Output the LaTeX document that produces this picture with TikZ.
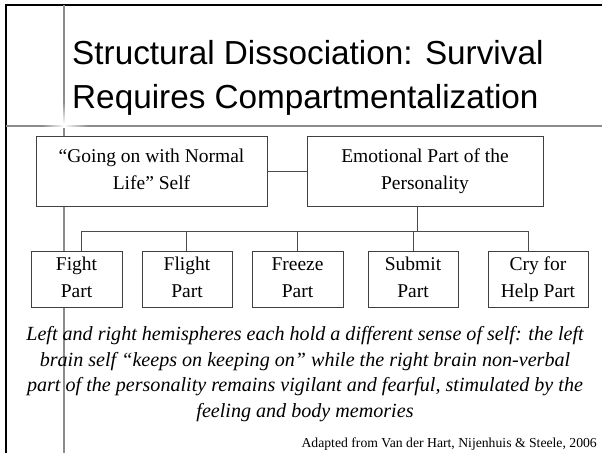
\documentclass[tikz,border=0pt]{standalone}
\usepackage{fontspec}
\setmainfont{Liberation Serif}
\newfontfamily\titlefont{Liberation Sans}
\newcommand\twolines[2]{\strut #1\\#2\strut}
\begin{document}
\begin{tikzpicture}[x=1pt,y=-1pt,
  box/.style={draw=black!75, line width=0.9pt, fill=white, inner sep=0pt, align=center,
    font=\fontsize{19.5}{27}\selectfont},
  bigbox/.style={box, minimum height=70pt},
  smallbox/.style={box, minimum height=56pt},
  conn/.style={draw=black!70, line width=0.9pt},
  deco/.style={draw=black!45, line width=1.8pt},
  titletext/.style={anchor=base west, inner sep=0pt, font=\titlefont\fontsize{33.3}{40}\selectfont}]
\useasboundingbox (0,0) rectangle (602,453);
\fill[white] (0,0) rectangle (602,453);
% slide decoration
\draw[black, line width=2pt] (6,453) -- (6,5) -- (602,5);
\draw[deco] (64,5) -- (64,102);
\shade[top color=black!45, bottom color=white] (63.1,102) rectangle (64.9,124);
\draw[deco] (64,128) -- (64,453);
\draw[deco] (6,126) -- (42,126);
\shade[left color=black!45, right color=white] (42,125.1) rectangle (64,126.9);
\shade[left color=white, right color=black!45] (64,125.1) rectangle (88,126.9);
\draw[deco] (88,126) -- (602,126);
% title
\node[titletext] (t1) at (72,64) {Structural Dissociation: Survival};
\node[titletext] (t2) at (72,108) {Requires Compartmentalization};
% boxes
\node[bigbox, minimum width=231pt] (A) at (151.5,171) {\twolines{“Going on with Normal}{Life” Self}};
\node[bigbox, minimum width=236pt] (B) at (425,171) {\twolines{Emotional Part of the}{Personality}};
\node[smallbox, minimum width=91pt] (fight) at (76.5,279) {\twolines{Fight}{Part}};
\node[smallbox, minimum width=90pt] (flight) at (187,279) {\twolines{Flight}{Part}};
\node[smallbox, minimum width=91pt] (freeze) at (297.5,279) {\twolines{Freeze}{Part}};
\node[smallbox, minimum width=90pt] (submit) at (413,279) {\twolines{Submit}{Part}};
\node[smallbox, minimum width=100pt] (cry) at (538,279) {\twolines{Cry for}{Help Part}};
% connectors
\coordinate (dB) at (417,231);
\coordinate (b1) at (81,231);
\coordinate (b2) at (186,231);
\coordinate (b3) at (297,231);
\coordinate (b4) at (413,231);
\coordinate (b5) at (528,231);
\draw[conn] (A.east) -- (B.west);
\draw[conn] (B.south -| dB) -- (dB);
\draw[conn] (fight.north -| b1) -- (b1) -- (b5) -- (cry.north -| b5);
\draw[conn] (flight.north -| b2) -- (b2);
\draw[conn] (freeze.north -| b3) -- (b3);
\draw[conn] (submit.north -| b4) -- (b4);
% caption
\node[align=center, inner sep=0pt, font=\itshape\fontsize{20.1}{25.5}\selectfont] (cap) at (305,374)
 {Left and right hemispheres each hold a different sense of self: the left\\
  brain self “keeps on keeping on” while the right brain non-verbal\\
  part of the personality remains vigilant and fearful, stimulated by the\\
  feeling and body memories};
\node[anchor=base east, inner sep=0pt, font=\fontsize{13.7}{15}\selectfont] (src) at (597,447)
 {Adapted from Van der Hart, Nijenhuis \& Steele, 2006};
\end{tikzpicture}
\end{document}
